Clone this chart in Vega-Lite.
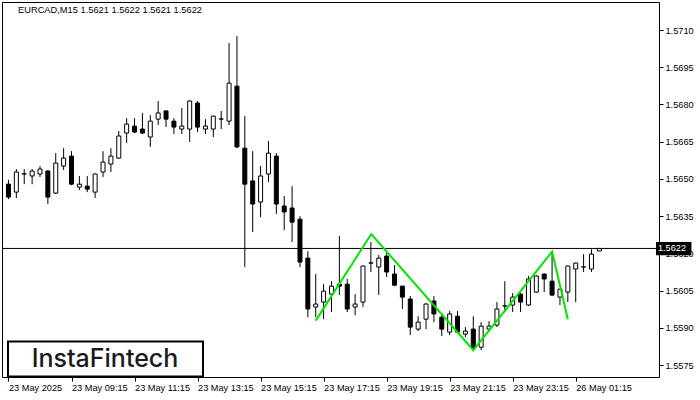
{
  "$schema": "https://vega.github.io/schema/vega-lite/v6.json",
  "autosize": {"type": "none"},
  "width": 657,
  "height": 375,
  "padding": {"left": 2, "top": 2, "right": 41, "bottom": 23},
  "background": "white",
  "title": {
    "text": "EURCAD,M15  1.5621 1.5622 1.5621 1.5622",
    "anchor": "start",
    "frame": "group",
    "offset": -13,
    "dx": 16,
    "font": "Liberation Sans",
    "fontSize": 9.3,
    "fontWeight": "normal",
    "color": "black"
  },
  "datasets": {
    "candles": [
      {"i": 0, "t": "23 May 07:15", "o": 1.56479, "h": 1.56496, "l": 1.56419, "c": 1.56427},
      {"i": 1, "t": "23 May 07:30", "o": 1.56447, "h": 1.56540, "l": 1.56423, "c": 1.56528},
      {"i": 2, "t": "23 May 07:45", "o": 1.56520, "h": 1.56540, "l": 1.56479, "c": 1.56521},
      {"i": 3, "t": "23 May 08:00", "o": 1.56512, "h": 1.56540, "l": 1.56479, "c": 1.56532},
      {"i": 4, "t": "23 May 08:15", "o": 1.56520, "h": 1.56552, "l": 1.56508, "c": 1.56540},
      {"i": 5, "t": "23 May 08:30", "o": 1.56532, "h": 1.56536, "l": 1.56399, "c": 1.56427},
      {"i": 6, "t": "23 May 08:45", "o": 1.56443, "h": 1.56604, "l": 1.56439, "c": 1.56564},
      {"i": 7, "t": "23 May 09:00", "o": 1.56552, "h": 1.56624, "l": 1.56536, "c": 1.56584},
      {"i": 8, "t": "23 May 09:15", "o": 1.56592, "h": 1.56612, "l": 1.56475, "c": 1.56479},
      {"i": 9, "t": "23 May 09:30", "o": 1.56467, "h": 1.56512, "l": 1.56455, "c": 1.56479},
      {"i": 10, "t": "23 May 09:45", "o": 1.56471, "h": 1.56512, "l": 1.56447, "c": 1.56459},
      {"i": 11, "t": "23 May 10:00", "o": 1.56447, "h": 1.56522, "l": 1.56423, "c": 1.56520},
      {"i": 12, "t": "23 May 10:15", "o": 1.56528, "h": 1.56612, "l": 1.56508, "c": 1.56568},
      {"i": 13, "t": "23 May 10:30", "o": 1.56560, "h": 1.56624, "l": 1.56528, "c": 1.56592},
      {"i": 14, "t": "23 May 10:45", "o": 1.56584, "h": 1.56693, "l": 1.56582, "c": 1.56673},
      {"i": 15, "t": "23 May 11:00", "o": 1.56685, "h": 1.56745, "l": 1.56645, "c": 1.56721},
      {"i": 16, "t": "23 May 11:15", "o": 1.56713, "h": 1.56745, "l": 1.56685, "c": 1.56689},
      {"i": 17, "t": "23 May 11:30", "o": 1.56701, "h": 1.56766, "l": 1.56681, "c": 1.56685},
      {"i": 18, "t": "23 May 11:45", "o": 1.56669, "h": 1.56757, "l": 1.56629, "c": 1.56733},
      {"i": 19, "t": "23 May 12:00", "o": 1.56741, "h": 1.56814, "l": 1.56717, "c": 1.56766},
      {"i": 20, "t": "23 May 12:15", "o": 1.56774, "h": 1.56776, "l": 1.56709, "c": 1.56741},
      {"i": 21, "t": "23 May 12:30", "o": 1.56733, "h": 1.56745, "l": 1.56681, "c": 1.56709},
      {"i": 22, "t": "23 May 12:45", "o": 1.56701, "h": 1.56786, "l": 1.56681, "c": 1.56713},
      {"i": 23, "t": "23 May 13:00", "o": 1.56701, "h": 1.56816, "l": 1.56649, "c": 1.56814},
      {"i": 24, "t": "23 May 13:15", "o": 1.56806, "h": 1.56814, "l": 1.56689, "c": 1.56709},
      {"i": 25, "t": "23 May 13:30", "o": 1.56701, "h": 1.56741, "l": 1.56681, "c": 1.56713},
      {"i": 26, "t": "23 May 13:45", "o": 1.56701, "h": 1.56755, "l": 1.56669, "c": 1.56753},
      {"i": 27, "t": "23 May 14:00", "o": 1.56741, "h": 1.56774, "l": 1.56701, "c": 1.56742},
      {"i": 28, "t": "23 May 14:15", "o": 1.56733, "h": 1.57048, "l": 1.56717, "c": 1.56886},
      {"i": 29, "t": "23 May 14:30", "o": 1.56874, "h": 1.57076, "l": 1.56624, "c": 1.56629},
      {"i": 30, "t": "23 May 14:45", "o": 1.56624, "h": 1.56753, "l": 1.56145, "c": 1.56479},
      {"i": 31, "t": "23 May 15:00", "o": 1.56492, "h": 1.56612, "l": 1.56286, "c": 1.56399},
      {"i": 32, "t": "23 May 15:15", "o": 1.56407, "h": 1.56552, "l": 1.56346, "c": 1.56512},
      {"i": 33, "t": "23 May 15:30", "o": 1.56520, "h": 1.56653, "l": 1.56487, "c": 1.56604},
      {"i": 34, "t": "23 May 15:45", "o": 1.56592, "h": 1.56604, "l": 1.56359, "c": 1.56399},
      {"i": 35, "t": "23 May 16:00", "o": 1.56391, "h": 1.56431, "l": 1.56294, "c": 1.56367},
      {"i": 36, "t": "23 May 16:15", "o": 1.56383, "h": 1.56471, "l": 1.56246, "c": 1.56326},
      {"i": 37, "t": "23 May 16:30", "o": 1.56338, "h": 1.56350, "l": 1.56145, "c": 1.56165},
      {"i": 38, "t": "23 May 16:45", "o": 1.56181, "h": 1.56209, "l": 1.55943, "c": 1.55976},
      {"i": 39, "t": "23 May 17:00", "o": 1.55984, "h": 1.56117, "l": 1.55943, "c": 1.55996},
      {"i": 40, "t": "23 May 17:15", "o": 1.56004, "h": 1.56076, "l": 1.55935, "c": 1.56048},
      {"i": 41, "t": "23 May 17:30", "o": 1.56036, "h": 1.56088, "l": 1.55964, "c": 1.56068},
      {"i": 42, "t": "23 May 17:45", "o": 1.56076, "h": 1.56270, "l": 1.56032, "c": 1.56068},
      {"i": 43, "t": "23 May 18:00", "o": 1.56076, "h": 1.56097, "l": 1.55964, "c": 1.55976},
      {"i": 44, "t": "23 May 18:15", "o": 1.55984, "h": 1.56036, "l": 1.55951, "c": 1.55996},
      {"i": 45, "t": "23 May 18:30", "o": 1.56004, "h": 1.56151, "l": 1.55984, "c": 1.56149},
      {"i": 46, "t": "23 May 18:45", "o": 1.56161, "h": 1.56246, "l": 1.56125, "c": 1.56162},
      {"i": 47, "t": "23 May 19:00", "o": 1.56145, "h": 1.56193, "l": 1.56032, "c": 1.56181},
      {"i": 48, "t": "23 May 19:15", "o": 1.56189, "h": 1.56201, "l": 1.56105, "c": 1.56125},
      {"i": 49, "t": "23 May 19:30", "o": 1.56117, "h": 1.56153, "l": 1.56068, "c": 1.56072},
      {"i": 50, "t": "23 May 19:45", "o": 1.56068, "h": 1.56070, "l": 1.55976, "c": 1.56024},
      {"i": 51, "t": "23 May 20:00", "o": 1.56016, "h": 1.56028, "l": 1.55871, "c": 1.55903},
      {"i": 52, "t": "23 May 20:15", "o": 1.55895, "h": 1.55947, "l": 1.55887, "c": 1.55923},
      {"i": 53, "t": "23 May 20:30", "o": 1.55935, "h": 1.56000, "l": 1.55895, "c": 1.55996},
      {"i": 54, "t": "23 May 20:45", "o": 1.56008, "h": 1.56028, "l": 1.55923, "c": 1.55956},
      {"i": 55, "t": "23 May 21:00", "o": 1.55943, "h": 1.55960, "l": 1.55867, "c": 1.55895},
      {"i": 56, "t": "23 May 21:15", "o": 1.55883, "h": 1.55968, "l": 1.55871, "c": 1.55956},
      {"i": 57, "t": "23 May 21:30", "o": 1.55947, "h": 1.55968, "l": 1.55881, "c": 1.55883},
      {"i": 58, "t": "23 May 21:45", "o": 1.55875, "h": 1.55903, "l": 1.55863, "c": 1.55887},
      {"i": 59, "t": "23 May 22:00", "o": 1.55895, "h": 1.55947, "l": 1.55806, "c": 1.55818},
      {"i": 60, "t": "23 May 22:15", "o": 1.55822, "h": 1.55923, "l": 1.55810, "c": 1.55907},
      {"i": 61, "t": "23 May 22:30", "o": 1.55895, "h": 1.55927, "l": 1.55887, "c": 1.55907},
      {"i": 62, "t": "23 May 22:45", "o": 1.55911, "h": 1.56004, "l": 1.55903, "c": 1.55976},
      {"i": 63, "t": "23 May 23:00", "o": 1.55988, "h": 1.56088, "l": 1.55964, "c": 1.55989},
      {"i": 64, "t": "23 May 23:15", "o": 1.55992, "h": 1.56040, "l": 1.55964, "c": 1.56024},
      {"i": 65, "t": "23 May 23:30", "o": 1.56036, "h": 1.56040, "l": 1.55964, "c": 1.56004},
      {"i": 66, "t": "23 May 23:45", "o": 1.55992, "h": 1.56109, "l": 1.55988, "c": 1.56097},
      {"i": 67, "t": "26 May 00:00", "o": 1.56044, "h": 1.56111, "l": 1.56042, "c": 1.56109},
      {"i": 68, "t": "26 May 00:15", "o": 1.56117, "h": 1.56119, "l": 1.56044, "c": 1.56097},
      {"i": 69, "t": "26 May 00:30", "o": 1.56088, "h": 1.56205, "l": 1.56030, "c": 1.56032},
      {"i": 70, "t": "26 May 00:45", "o": 1.56024, "h": 1.56058, "l": 1.55992, "c": 1.56056},
      {"i": 71, "t": "26 May 01:00", "o": 1.56044, "h": 1.56151, "l": 1.56004, "c": 1.56149},
      {"i": 72, "t": "26 May 01:15", "o": 1.56137, "h": 1.56163, "l": 1.56004, "c": 1.56161},
      {"i": 73, "t": "26 May 01:30", "o": 1.56145, "h": 1.56197, "l": 1.56125, "c": 1.56146},
      {"i": 74, "t": "26 May 01:45", "o": 1.56137, "h": 1.56217, "l": 1.56125, "c": 1.56197},
      {"i": 75, "t": "26 May 02:00", "o": 1.5621, "h": 1.5622, "l": 1.5621, "c": 1.5622}
    ],
    "pattern": [
      {"i": 39, "p": 1.55929},
      {"i": 46.05, "p": 1.56278},
      {"i": 59, "p": 1.55810},
      {"i": 69, "p": 1.56207},
      {"i": 71, "p": 1.55935}
    ],
    "last": [{"p": 1.5622}]
  },
  "layer": [
    {
      "data": {"name": "last"},
      "mark": {"type": "rule", "color": "black", "strokeWidth": 1},
      "encoding": {
        "y": {"field": "p", "type": "quantitative",
              "scale": {"domain": [1.55702, 1.57213], "nice": false, "zero": false}}
      }
    },
    {
      "data": {"name": "candles"},
      "mark": {"type": "rule", "color": "black", "strokeWidth": 1},
      "encoding": {
        "x": {"field": "i", "type": "quantitative",
              "scale": {"domain": [-0.1875, 81.9375], "nice": false, "zero": false},
              "axis": {
                "orient": "bottom",
                "title": null,
                "values": [0, 8, 16, 24, 32, 40, 48, 56, 64, 72],
                "labelExpr": "['23 May 2025','23 May 09:15','23 May 11:15','23 May 13:15','23 May 15:15','23 May 17:15','23 May 19:15','23 May 21:15','23 May 23:15','26 May 01:15'][round(datum.value / 8)]",
                "domain": false,
                "grid": false,
                "ticks": true,
                "tickSize": 4,
                "tickColor": "black",
                "labelAlign": "left",
                "labelBaseline": "top",
                "labelPadding": 2,
                "labelFont": "Liberation Sans",
                "labelFontSize": 9.2,
                "labelColor": "black",
                "labelOverlap": false,
                "labelBound": false,
                "labelFlush": false
              }},
        "y": {"field": "l", "type": "quantitative",
              "scale": {"domain": [1.55702, 1.57213], "nice": false, "zero": false},
              "axis": {
                "orient": "right",
                "title": null,
                "values": [1.5575, 1.559, 1.5605, 1.562, 1.5635, 1.565, 1.5665, 1.568, 1.5695, 1.571],
                "format": ".4f",
                "domain": false,
                "grid": false,
                "tickSize": 4,
                "tickColor": "black",
                "labelPadding": 2,
                "labelAlign": "left",
                "labelBaseline": "middle",
                "labelFont": "Liberation Sans",
                "labelFontSize": 9.2,
                "labelColor": "black",
                "labelOverlap": false,
                "labelBound": false,
                "labelFlush": false
              }},
        "y2": {"field": "h"}
      }
    },
    {
      "data": {"name": "candles"},
      "mark": {"type": "bar", "size": 4, "stroke": "black", "strokeWidth": 1},
      "encoding": {
        "x": {"field": "i", "type": "quantitative"},
        "y": {"field": "o", "type": "quantitative"},
        "y2": {"field": "c"},
        "fill": {"condition": {"test": "datum.c >= datum.o", "value": "white"}, "value": "black"}
      }
    },
    {
      "data": {"name": "pattern"},
      "mark": {"type": "line", "color": "#00e600", "strokeWidth": 2},
      "encoding": {
        "x": {"field": "i", "type": "quantitative"},
        "y": {"field": "p", "type": "quantitative"}
      }
    },
    {
      "data": {"values": [{}]},
      "mark": {"type": "rect", "fill": "white", "stroke": "black", "strokeWidth": 2},
      "encoding": {
        "x": {"datum": -0.0625, "type": "quantitative"},
        "x2": {"datum": 24.69},
        "y": {"datum": 1.55845, "type": "quantitative"},
        "y2": {"datum": 1.55704}
      }
    },
    {
      "data": {"values": [{}]},
      "mark": {"type": "text", "text": "InstaFintech", "font": "Inter", "fontSize": 25, "fontWeight": 500, "color": "#1a1a1a", "align": "center", "baseline": "middle"},
      "encoding": {
        "x": {"datum": 12.25, "type": "quantitative"},
        "y": {"datum": 1.55774, "type": "quantitative"}
      }
    },
    {
      "data": {"name": "last"},
      "mark": {"type": "rect", "fill": "black"},
      "encoding": {
        "x": {"datum": 82.19, "type": "quantitative"},
        "x2": {"datum": 86.69},
        "y": {"datum": 1.56246, "type": "quantitative"},
        "y2": {"datum": 1.56193}
      }
    },
    {
      "data": {"name": "last"},
      "mark": {"type": "text", "color": "white", "align": "left", "baseline": "middle", "font": "Liberation Sans", "fontSize": 9.2},
      "encoding": {
        "x": {"datum": 82.44, "type": "quantitative"},
        "y": {"field": "p", "type": "quantitative"},
        "text": {"field": "p", "type": "quantitative", "format": ".4f"}
      }
    }
  ],
  "config": {
    "view": {"stroke": "black", "strokeWidth": 1}
  }
}
